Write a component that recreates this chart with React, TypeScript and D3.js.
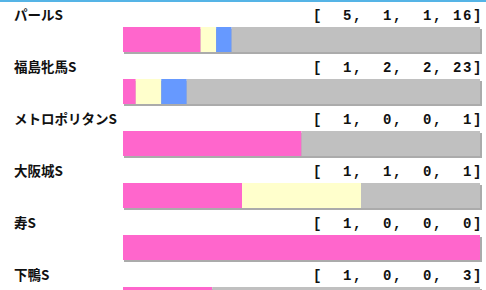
import React from "react";
import * as d3 from "d3";

const races = ["パールS", "福島牝馬S", "メトロポリタンS", "大阪城S", "寿S", "下鴨S"];
const first = [5, 1, 1, 1, 1, 1];
const second = [1, 2, 0, 1, 0, 0];
const third = [1, 2, 0, 0, 0, 0];
const other = [16, 23, 1, 1, 0, 3];

const colors = ["#ff66cc", "#ffffcc", "#6699ff", "#c0c0c0"];

const W = 486;
const H = 290;
const barLeft = 123;
const barRight = 480;
const rowPitch = 52;
const barTop0 = 27;
const barH = 25;

function fmt(n: number) {
  const s = String(n);
  return s.length < 2 ? " " + s : s;
}

export default function App() {
  const rows = races.map((name, i) => {
    const vals = [first[i], second[i], third[i], other[i]];
    const total = d3.sum(vals);
    const x = d3.scaleLinear().domain([0, total]).range([barLeft, barRight]);
    let acc = 0;
    const segs = vals.map((v, k) => {
      const s = { x0: x(acc), x1: x(acc + v), color: colors[k] };
      acc += v;
      return s;
    });
    const label = "[ " + vals.map(fmt).join(", ") + "]";
    return { name, segs, label, y: barTop0 + i * rowPitch };
  });

  return (
    <div style={{ position: "fixed", left: 0, top: 0 }}>
      <svg width={W} height={H} style={{ display: "block", background: "#fff" }}>
        <rect x={0} y={0} width={W} height={2} fill="#55b4e6" />
        {rows.map((r, i) => (
          <g key={i}>
            <text
              x={14}
              y={r.y - 7}
              fontFamily="'Noto Sans CJK JP', 'Noto Sans', sans-serif"
              fontWeight="bold"
              fontSize={13.5}
              fill="#111"
            >
              {r.name}
            </text>
            <text
              x={313}
              y={r.y - 7}
              fontFamily="'Liberation Mono', 'DejaVu Sans Mono', monospace"
              fontWeight="bold"
              fontSize={14}
              letterSpacing={1.6}
              fill="#111"
              style={{ whiteSpace: "pre" }}
            >
              {r.label}
            </text>
            <rect
              x={barLeft + 1}
              y={r.y + 2}
              width={barRight - barLeft + 1}
              height={barH}
              fill="#888"
              opacity={0.7}
            />
            {r.segs.map((s, k) =>
              s.x1 > s.x0 ? (
                <rect
                  key={k}
                  x={s.x0}
                  y={r.y}
                  width={s.x1 - s.x0}
                  height={barH}
                  fill={s.color}
                />
              ) : null
            )}
          </g>
        ))}
      </svg>
    </div>
  );
}
